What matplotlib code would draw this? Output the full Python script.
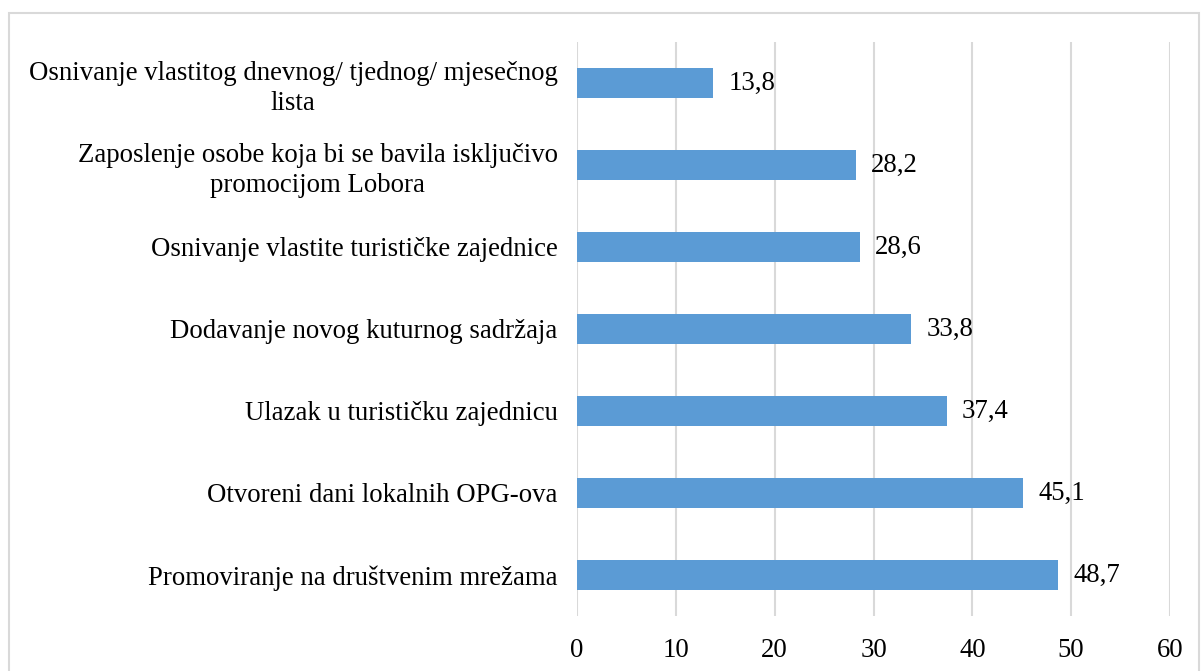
import matplotlib
matplotlib.use("Agg")
import matplotlib.pyplot as plt
from matplotlib.patches import Rectangle

categories = [
    "Osnivanje vlastitog dnevnog/ tjednog/ mjesečnog\nlista",
    "Zaposlenje osobe koja bi se bavila isključivo\npromocijom Lobora",
    "Osnivanje vlastite turističke zajednice",
    "Dodavanje novog kuturnog sadržaja",
    "Ulazak u turističku zajednicu",
    "Otvoreni dani lokalnih OPG-ova",
    "Promoviranje na društvenim mrežama",
]
values = [13.8, 28.2, 28.6, 33.8, 37.4, 45.1, 48.7]
value_labels = ["13,8", "28,2", "28,6", "33,8", "37,4", "45,1", "48,7"]
xticks = [0, 10, 20, 30, 40, 50, 60]

plt.rcParams['font.family'] = ['Liberation Serif', 'DejaVu Serif']

W, H = 1202, 671
fig = plt.figure(figsize=(W/100, H/100), dpi=100)
ax = fig.add_axes([577/W, 1 - 616/H, (1170-577)/W, (616-42)/H])

FS = 19.3
pos = list(range(len(categories)))
ax.barh(pos, values, height=0.355, color='#5B9BD5', zorder=3)
for p, v, lab in zip(pos, values, value_labels):
    ax.annotate(lab, (v, p), xytext=(11, 0), textcoords='offset points',
                va='center', ha='left', fontsize=FS, color='black')

ax.set_xlim(0, 60)
ax.set_ylim(len(categories) - 0.5, -0.5)
ax.set_xticks(xticks)
ax.set_xticklabels([str(t) for t in xticks], fontsize=FS)
ax.set_yticks(pos)
ax.set_yticklabels(categories, fontsize=FS, multialignment='center',
                   linespacing=1.25)
ax.tick_params(axis='both', length=0)
ax.tick_params(axis='y', pad=14)
ax.tick_params(axis='x', pad=15.5)
ax.grid(axis='x', color='#D9D9D9', linewidth=1.5, zorder=0)
for s in ax.spines.values():
    s.set_visible(False)

fig.patches.append(Rectangle((9/W, -0.01), (1199-9)/W, 1 - 13/H + 0.01,
                             transform=fig.transFigure, fill=False,
                             edgecolor='#D9D9D9', linewidth=1.5))

fig.savefig("out.png", dpi=100)
